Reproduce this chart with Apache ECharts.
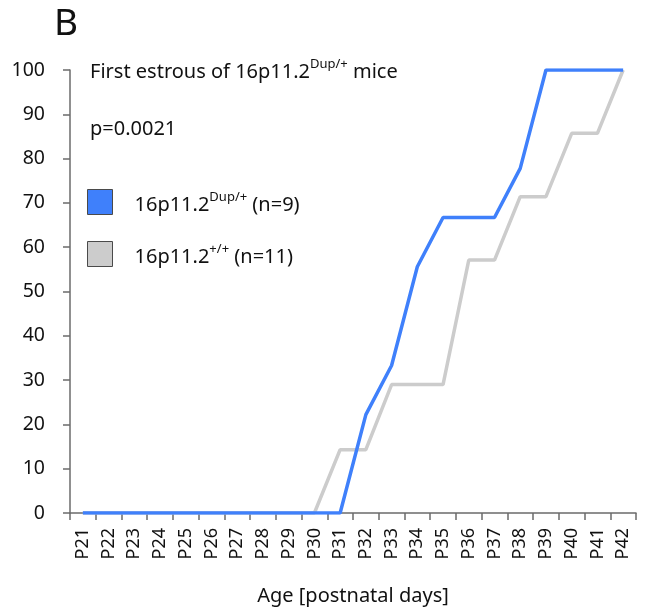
<!DOCTYPE html>
<html>
<head>
<meta charset="utf-8">
<script src="https://cdn.jsdelivr.net/npm/echarts@6/dist/echarts.min.js"></script>
<style>
  html, body { margin: 0; padding: 0; background: #fff; }
  #chart { width: 646px; height: 613px; }
</style>
</head>
<body>
<div id="chart"></div>
<script>
// Postnatal day categories
const days = ['P21','P22','P23','P24','P25','P26','P27','P28','P29','P30','P31',
              'P32','P33','P34','P35','P36','P37','P38','P39','P40','P41','P42'];

// Cumulative % of mice that reached first estrous
const dupValues = [0,0,0,0,0,0,0,0,0,0,0, 22.2,33.3,55.6,66.7,66.7,66.7,77.8,100,100,100,100];
const wtValues  = [0,0,0,0,0,0,0,0,0,0,14.3, 14.3,29,29,29,57.1,57.1,71.4,71.4,85.7,85.7,100];

const yTicks = { min: 0, max: 100, interval: 10 };

const FONT = '"Noto Sans", "Open Sans", sans-serif';
const TEXT = '#111';
const AXIS = '#6b6b6b';

const chart = echarts.init(document.getElementById('chart'), null, { renderer: 'canvas' });

const supRich = {
  base: { fontSize: 20, fontWeight: 'normal', color: TEXT, fontFamily: FONT, lineHeight: 26, verticalAlign: 'bottom' },
  sup:  { fontSize: 13, fontWeight: 'normal', color: TEXT, fontFamily: FONT, lineHeight: 26, verticalAlign: 'top', padding: [2, 0, 0, 0] }
};

chart.setOption({
  animation: false,
  backgroundColor: '#fff',
  textStyle: { fontFamily: FONT },
  title: [
    { text: 'B', left: 54, top: 6, padding: 0, textStyle: { fontSize: 37, fontWeight: 'normal', color: TEXT, fontFamily: FONT } },
    { text: '{base|First estrous of 16p11.2}{sup|Dup/+}{base| mice}', left: 90, top: 56, padding: 0,
      textStyle: { fontWeight: 'normal', rich: supRich } },
    { text: 'p=0.0021', left: 90, top: 119, padding: 0,
      textStyle: { fontSize: 20, fontWeight: 'normal', color: TEXT, fontFamily: FONT } }
  ],
  legend: {
    orient: 'vertical',
    left: 87, top: 189, padding: 0,
    itemWidth: 25, itemHeight: 25, itemGap: 26,
    icon: 'rect',
    itemStyle: { borderColor: '#4a4a4a', borderWidth: 1 },
    data: ['dup', 'wt'],
    formatter: function (name) {
      return name === 'dup'
        ? '{base|16p11.2}{sup|Dup/+}{base| (n=9)}'
        : '{base|16p11.2}{sup|+/+}{base| (n=11)}';
    },
    textStyle: { padding: [0, 0, 0, 17], rich: supRich }
  },
  grid: { left: 70, right: 10, top: 70, bottom: 100, containLabel: false, outerBoundsMode: 'none' },
  xAxis: {
    type: 'category',
    data: days,
    boundaryGap: true,
    name: 'Age [postnatal days]',
    nameLocation: 'middle',
    nameGap: 73,
    nameTextStyle: { fontSize: 20, color: TEXT, fontFamily: FONT },
    axisLine: { lineStyle: { color: AXIS, width: 1.5 } },
    axisTick: { show: true, length: 7, inside: false, lineStyle: { color: AXIS, width: 1.5 } },
    axisLabel: { rotate: 90, fontSize: 18, color: TEXT, margin: 15, interval: 0, fontFamily: FONT },
    splitLine: { show: false }
  },
  yAxis: {
    type: 'value',
    min: yTicks.min, max: yTicks.max, interval: yTicks.interval,
    axisLine: { show: true, lineStyle: { color: AXIS, width: 1.5 } },
    axisTick: { show: true, length: 7, inside: false, lineStyle: { color: AXIS, width: 1.5 } },
    axisLabel: { fontSize: 19.5, color: TEXT, margin: 25, fontFamily: FONT },
    splitLine: { show: false }
  },
  series: [
    {
      name: 'wt', type: 'line', data: wtValues,
      symbol: 'none', z: 2,
      lineStyle: { color: '#cccccc', width: 3.5 },
      itemStyle: { color: '#cccccc' }
    },
    {
      name: 'dup', type: 'line', data: dupValues,
      symbol: 'none', z: 3,
      lineStyle: { color: '#3f80fb', width: 3.5 },
      itemStyle: { color: '#3f80fb' }
    }
  ]
});
</script>
</body>
</html>
